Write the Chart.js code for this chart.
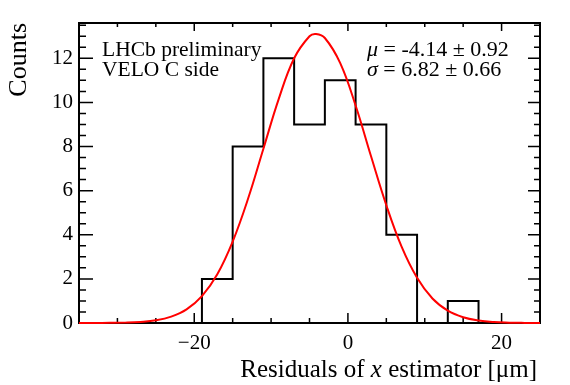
<!DOCTYPE html>
<html>
<head>
<meta charset="utf-8">
<script src="https://cdn.jsdelivr.net/npm/chart.js@4.4.1/dist/chart.umd.min.js"></script>
<style>
  body { margin: 0; background: #fff; }
  canvas { display: block; }
</style>
</head>
<body>
<canvas id="resChart" width="570" height="385"></canvas>
<script>
// Histogramme des résidus (bords des classes + comptages)
const binEdges = [-35, -31, -27, -23, -19, -15, -11, -7, -3, 1, 5, 9, 13, 17, 21, 25];
const counts   = [0, 0, 0, 0, 2, 8, 12, 9, 11, 9, 4, 0, 1, 0, 0];

// Courbe d'ajustement
const fitX = [-35, -33, -31, -29, -27, -25, -23, -21, -19, -17, -15, -13, -11, -9, -7, -5, -4.14, -3, -1, 1, 3, 5, 7, 9, 11, 13, 15, 17, 19, 21, 23, 25];
const fitY = [0, 0.002, 0.006, 0.017, 0.048, 0.12, 0.29, 0.62, 1.22, 2.21, 3.69, 5.63, 7.9, 10.16, 12.0, 13.0, 13.1, 12.92, 11.78, 9.86, 7.57, 5.34, 3.45, 2.05, 1.11, 0.56, 0.26, 0.11, 0.04, 0.015, 0.005, 0.001];

const xMajorTicks = [-20, 0, 20];
const yMajorTicks = [0, 2, 4, 6, 8, 10, 12];
const labelLines = ["LHCb preliminary", "VELO C side"];
const fitLines = [["\u03bc", " = -4.14 \u00b1 0.92"], ["\u03c3", " = 6.82 \u00b1 0.66"]];

const SERIF = "'Liberation Serif', 'DejaVu Serif', serif";
Chart.defaults.font.family = SERIF;
Chart.defaults.color = "#000";

// construire la ligne en escalier
const histPoints = binEdges.slice(0, -1).map((e, i) => ({ x: e, y: counts[i] }));
histPoints.push({ x: binEdges[binEdges.length - 1], y: 0 });
const fitPoints = fitX.map((v, i) => ({ x: v, y: fitY[i] }));

// ticks intérieurs style ROOT sur les quatre côtés + cadre (dessinés avant les données)
const rootFrame = {
    id: "rootFrame",
    beforeDatasetsDraw(chart) {
        const { ctx, chartArea: a, scales: { x, y } } = chart;
        ctx.save();
        ctx.strokeStyle = "#000";
        ctx.lineWidth = 1.5;
        ctx.beginPath();
        for (let v = -35; v <= 25; v += 5) {
            const px = x.getPixelForValue(v);
            const major = v % 20 === 0;
            ctx.moveTo(px, a.bottom); ctx.lineTo(px, a.bottom - (major ? 10 : 5));
            ctx.moveTo(px, a.top); ctx.lineTo(px, a.top + (major ? 8 : 4));
        }
        for (let v = 0; v <= 13.5; v += 0.5) {
            const py = y.getPixelForValue(v);
            const major = v % 2 === 0;
            ctx.moveTo(a.left, py); ctx.lineTo(a.left + (major ? 14 : 7), py);
            ctx.moveTo(a.right, py); ctx.lineTo(a.right - (major ? 12 : 6), py);
        }
        ctx.stroke();
        ctx.lineWidth = 2;
        ctx.strokeRect(a.left, a.top, a.right - a.left, a.bottom - a.top);
        ctx.restore();
    },
    afterDraw(chart) {
        const { ctx } = chart;
        ctx.save();
        ctx.fillStyle = "#000";
        ctx.textBaseline = "alphabetic";
        ctx.textAlign = "left";

        ctx.font = "21.5px " + SERIF;
        labelLines.forEach((t, i) => ctx.fillText(t, 102, 56 + i * 20));

        fitLines.forEach((parts, i) => {
            let px = 367;
            ctx.font = "italic 22px " + SERIF;
            ctx.fillText(parts[0], px, 56 + i * 20);
            px += ctx.measureText(parts[0]).width;
            ctx.font = "22px " + SERIF;
            ctx.fillText(parts[1], px, 56 + i * 20);
        });

        // titre de l'axe x (avec x en italique)
        const segs = [["Residuals of ", ""], ["x", "italic "], [" estimator [\u03bcm]", ""]];
        let total = 0;
        segs.forEach(s => { ctx.font = s[1] + "25px " + SERIF; total += ctx.measureText(s[0]).width; });
        let px = 537 - total;
        segs.forEach(s => {
            ctx.font = s[1] + "25px " + SERIF;
            ctx.fillText(s[0], px, 377);
            px += ctx.measureText(s[0]).width;
        });

        // titre de l'axe y
        ctx.font = "26px " + SERIF;
        ctx.translate(26, 23);
        ctx.rotate(-Math.PI / 2);
        ctx.textAlign = "right";
        ctx.fillText("Counts", 0, 0);
        ctx.restore();
    }
};

new Chart(document.getElementById("resChart"), {
    type: "line",
    data: {
        datasets: [
            {
                data: histPoints,
                stepped: "before",
                borderColor: "#000",
                borderWidth: 2,
                pointRadius: 0,
                fill: false,
                order: 2
            },
            {
                data: fitPoints,
                borderColor: "#ff0000",
                borderWidth: 2,
                pointRadius: 0,
                tension: 0.4,
                fill: false,
                clip: 3,
                order: 1
            }
        ]
    },
    options: {
        responsive: false,
        animation: false,
        layout: { padding: { top: 23, right: 30, left: 0, bottom: 0 } },
        plugins: { legend: { display: false }, tooltip: { enabled: false } },
        scales: {
            x: {
                type: "linear",
                min: -35,
                max: 25,
                grid: { display: false, drawTicks: false },
                border: { display: false },
                afterFit: s => { s.height = 62; },
                afterBuildTicks: s => { s.ticks = xMajorTicks.map(v => ({ value: v })); },
                ticks: {
                    padding: 8,
                    maxRotation: 0,
                    font: { size: 21 },
                    callback: v => (v < 0 ? "\u2212" + Math.abs(v) : String(v))
                }
            },
            y: {
                min: 0,
                max: 13.6,
                grid: { display: false, drawTicks: false },
                border: { display: false },
                afterFit: s => { s.width = 79; },
                afterBuildTicks: s => { s.ticks = yMajorTicks.map(v => ({ value: v })); },
                ticks: { padding: 6, font: { size: 21 } }
            }
        }
    },
    plugins: [rootFrame]
});
</script>
</body>
</html>
